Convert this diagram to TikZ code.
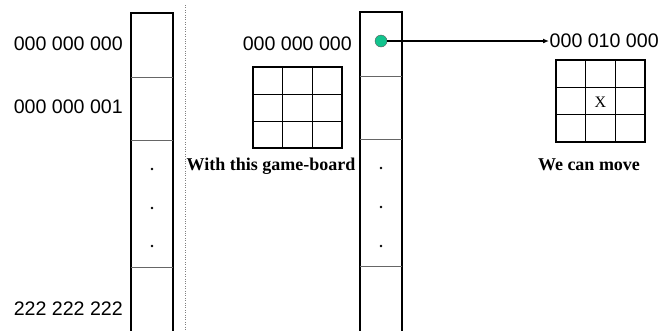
\documentclass[tikz,border=0pt]{standalone}
\usepackage{fontspec}
\setmainfont{Liberation Serif}
\setsansfont{Liberation Sans}
\usetikzlibrary{positioning,arrows.meta}
\definecolor{stategreen}{RGB}{18,196,142}

\begin{document}
\begin{tikzpicture}[x=1pt,y=1pt,yscale=-1,xscale=1,
  numlabel/.style={inner sep=0pt,font=\fontsize{19.6}{23}\sffamily},
  caption/.style={inner sep=0pt,font=\fontsize{18}{21}\selectfont\bfseries}]
\useasboundingbox (0,0) rectangle (664,330);

% left column: all states
\draw [line width=1.6] (131,13) rectangle (173,332);
\foreach \y in {77,140,267}
  \draw [color=gray!80!black] (131,\y) -- (173,\y);
\foreach \y in {169,208,246}
  \fill (152,\y) circle (1.3);

\node (first) [numlabel,anchor=base east] at (123,50) {000 000 000};
\node (second) [numlabel,anchor=base east] at (123,113) {000 000 001};
\node (last) [numlabel,anchor=base east] at (123,315) {222 222 222};

% separator
\draw [dotted,color=gray] (185,5) -- (185,332);

% middle column: table of moves
\draw [line width=1.6] (360,12) rectangle (402,332);
\foreach \y in {76,139,266}
  \draw [color=gray!80!black] (360,\y) -- (402,\y);
\foreach \y in {168,207,246}
  \fill (381,\y) circle (1.3);

\node (board) [numlabel,anchor=base east] at (352,50) {000 000 000};

% empty game-board
\draw [line width=1.6] (253,67) rectangle (342,148);
\foreach \x in {282.7,312.3}
  \draw [line width=0.8] (\x,67) -- (\x,148);
\foreach \y in {94,121}
  \draw [line width=0.8] (253,\y) -- (342,\y);
\node (with) [caption,anchor=base] at (271,170) {With this game-board};

% entry and result
\node (entry) [circle,fill=stategreen,draw=gray!70!black,minimum size=12,inner sep=0pt] at (381,41) {};
\node (move) [numlabel,anchor=west,inner sep=0.5pt] at (549,41) {000 010 000};
\draw [line width=1.3,-{Latex[length=6,width=5]}] (entry) -- (move);

% game-board after the move
\draw [line width=1.6] (556,60) rectangle (645,142);
\foreach \x in {585.7,615.3}
  \draw [line width=0.8] (\x,60) -- (\x,142);
\foreach \y in {87.3,114.7}
  \draw [line width=0.8] (556,\y) -- (645,\y);
\node (cross) [inner sep=0pt,font=\fontsize{16}{18}\selectfont] at (600.5,102) {X};
\node (can) [caption,anchor=base] at (589,170) {We can move};

\end{tikzpicture}
\end{document}
